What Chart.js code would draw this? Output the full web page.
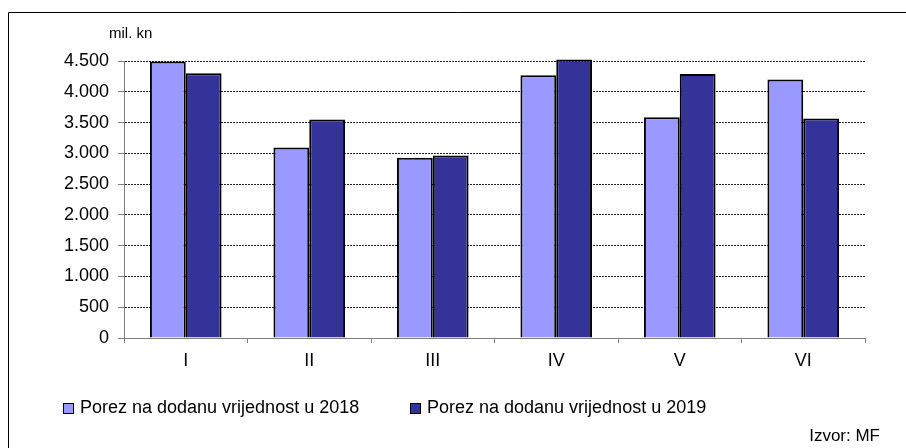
<!DOCTYPE html>
<html>
<head>
<meta charset="utf-8">
<script src="https://cdn.jsdelivr.net/npm/chart.js@4"></script>
<style>
  html, body { margin: 0; padding: 0; background: #fff; }
  #wrap { position: relative; width: 906px; height: 448px; }
</style>
</head>
<body>
<div id="wrap"><canvas id="myChart" width="906" height="448"></canvas></div>
<script>
// podaci
const categories = ['I', 'II', 'III', 'IV', 'V', 'VI'];
const seriesNames = ['Porez na dodanu vrijednost u 2018', 'Porez na dodanu vrijednost u 2019'];
const values2018 = [4490, 3095, 2930, 4270, 3585, 4200];
const values2019 = [4300, 3550, 2965, 4525, 4290, 3565];
const yTicks = [0, 500, 1000, 1500, 2000, 2500, 3000, 3500, 4000, 4500];
const unitLabel = 'mil. kn';
const sourceLabel = 'Izvor: MF';

const colors = ['#9999FF', '#333399'];
const FONT = '"Liberation Sans", Arial, sans-serif';

// 4500 -> "4.500"
function fmt(v) {
    return String(v).replace(/\B(?=(\d{3})+(?!\d))/g, '.');
}

// okvir, jedinica, legenda i izvor
const decorPlugin = {
    id: 'decor',
    afterDraw(chart) {
        const ctx = chart.ctx;
        ctx.save();
        ctx.strokeStyle = '#000';
        ctx.lineWidth = 1;
        ctx.beginPath();
        ctx.moveTo(8.5, 448);
        ctx.lineTo(8.5, 12.5);
        ctx.lineTo(906, 12.5);
        ctx.stroke();

        ctx.fillStyle = '#000';
        ctx.textBaseline = 'middle';
        ctx.textAlign = 'left';
        ctx.font = '15px ' + FONT;
        ctx.fillText(unitLabel, 109, 34);

        // legenda
        ctx.font = '18px ' + FONT;
        const legendX = [63, 410];
        chart.data.datasets.forEach((ds, i) => {
            const x = legendX[i];
            ctx.fillStyle = ds.backgroundColor;
            ctx.fillRect(x, 403, 10, 10);
            ctx.strokeStyle = '#000';
            ctx.lineWidth = 1;
            ctx.strokeRect(x + 0.5, 403.5, 10, 10);
            ctx.fillStyle = '#000';
            ctx.fillText(ds.label, x + 17, 408);
        });

        ctx.font = '17px ' + FONT;
        ctx.textAlign = 'right';
        ctx.fillText(sourceLabel, 880, 436);
        ctx.restore();
    }
};

const ctx = document.getElementById('myChart').getContext('2d');
new Chart(ctx, {
    type: 'bar',
    data: {
        labels: categories,
        datasets: [
            { label: seriesNames[0], data: values2018, backgroundColor: colors[0] },
            { label: seriesNames[1], data: values2019, backgroundColor: colors[1] }
        ]
    },
    options: {
        responsive: false,
        animation: false,
        events: [],
        layout: { padding: { left: 0, top: 61, right: 41, bottom: 0 } },
        datasets: {
            bar: {
                borderColor: '#000',
                borderWidth: 2,
                categoryPercentage: 0.58,
                barPercentage: 1.0,
                clip: false
            }
        },
        scales: {
            x: {
                afterFit(scale) { scale.height = 110; },
                grid: {
                    offset: true,
                    drawOnChartArea: false,
                    tickLength: 5,
                    tickColor: '#808080'
                },
                border: { color: '#808080', width: 1 },
                ticks: {
                    color: '#000',
                    padding: 7,
                    font: { family: FONT, size: 18 }
                }
            },
            y: {
                min: 0,
                max: 4500,
                afterFit(scale) { scale.width = 124; },
                afterBuildTicks(scale) { scale.ticks = yTicks.map(v => ({ value: v })); },
                grid: {
                    color: '#222',
                    lineWidth: 1,
                    tickLength: 6,
                    tickColor: '#808080',
                    tickBorderDash: []
                },
                border: { color: '#808080', width: 1, dash: [2, 1] },
                ticks: {
                    color: '#000',
                    padding: 9,
                    font: { family: FONT, size: 18 },
                    callback: v => fmt(v)
                }
            }
        },
        plugins: {
            legend: { display: false },
            tooltip: { enabled: false }
        }
    },
    plugins: [decorPlugin]
});
</script>
</body>
</html>
